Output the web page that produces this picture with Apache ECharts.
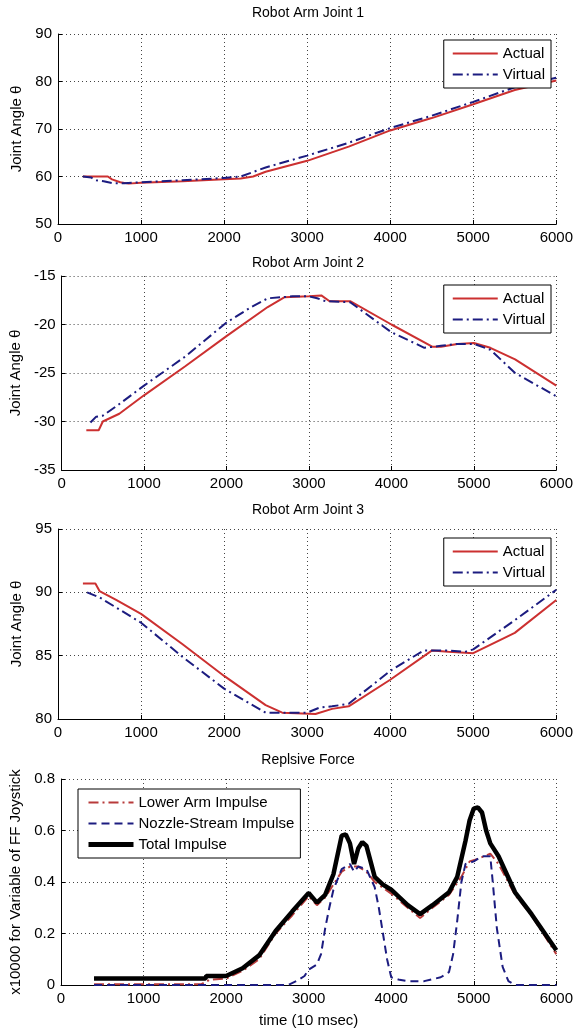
<!DOCTYPE html>
<html>
<head>
<meta charset="utf-8">
<script src="https://cdn.jsdelivr.net/npm/echarts@6/dist/echarts.min.js"></script>
<style>
  html, body { margin: 0; padding: 0; background: #fff; }
  #chart { width: 576px; height: 1031px; }
</style>
</head>
<body>
<div id="chart"></div>
<script>
// titles and names
const titles = ["Robot Arm Joint 1", "Robot Arm Joint 2", "Robot Arm Joint 3", "Replsive Force"];
const yNames = ["Joint Angle θ", "Joint Angle θ", "Joint Angle θ", "x10000 for Variable of FF Joystick"];
const xName = "time (10 msec)";
const yMin = [50, -35, 80, 0];
const yMax = [90, -15, 95, 0.8];
const yStep = [10, 5, 5, 0.2];

// joint 1
const j1ActualX = [300, 600, 650, 750, 850, 1000, 1500, 2000, 2200, 2350, 2500, 3000, 3500, 4000, 4500, 5000, 5500, 6000];
const j1ActualY = [60, 60, 59.4, 58.8, 58.5, 58.7, 59.0, 59.4, 59.6, 60.0, 61.0, 63.3, 66.3, 69.7, 72.3, 75.2, 78.2, 80.2];
const j1VirtualX = [300, 400, 450, 550, 650, 800, 1000, 1500, 2000, 2200, 2500, 3000, 3500, 4000, 4500, 5000, 5500, 6000];
const j1VirtualY = [60, 59.8, 59.2, 59.0, 58.6, 58.6, 58.8, 59.2, 59.7, 60.0, 61.9, 64.4, 67.1, 70.2, 72.8, 75.7, 78.8, 80.8];

// joint 2
const j2ActualX = [300, 450, 500, 700, 1000, 1500, 2000, 2500, 2700, 3000, 3150, 3250, 3500, 4000, 4500, 4600, 4800, 5000, 5200, 5500, 6000];
const j2ActualY = [-30.9, -30.9, -30.0, -29.2, -27.3, -24.3, -21.2, -18.2, -17.2, -17.1, -17.0, -17.6, -17.6, -20.0, -22.3, -22.3, -22.0, -21.9, -22.4, -23.6, -26.3];
const j2VirtualX = [350, 420, 500, 700, 1000, 1500, 2000, 2300, 2500, 2800, 3000, 3100, 3200, 3500, 4000, 4400, 4600, 4800, 5000, 5200, 5500, 6000];
const j2VirtualY = [-30.1, -29.5, -29.4, -28.2, -26.3, -23.3, -19.8, -18.2, -17.3, -17.1, -17.1, -17.3, -17.6, -17.7, -20.8, -22.4, -22.2, -22.0, -22.0, -22.6, -25.0, -27.4];

// joint 3
const j3ActualX = [300, 450, 500, 700, 1000, 1500, 2000, 2500, 2700, 3100, 3300, 3500, 4000, 4500, 4700, 5000, 5500, 6000];
const j3ActualY = [90.7, 90.7, 90.1, 89.4, 88.3, 85.9, 83.4, 81.1, 80.5, 80.4, 80.8, 81.0, 83.1, 85.4, 85.3, 85.2, 86.8, 89.4];
const j3VirtualX = [350, 500, 1000, 1500, 2000, 2500, 3000, 3150, 3300, 3500, 4000, 4400, 4700, 4900, 5000, 5500, 6000];
const j3VirtualY = [90.0, 89.6, 87.6, 84.9, 82.4, 80.5, 80.5, 80.9, 81.0, 81.2, 83.8, 85.4, 85.4, 85.3, 85.5, 87.8, 90.2];

// repulsive force
const lowerX = [400, 1700, 1800, 2000, 2200, 2400, 2600, 2800, 3000, 3100, 3200, 3300, 3400, 3500, 3600, 3700, 3800, 4000, 4200, 4350, 4500, 4700, 4850, 4950, 5050, 5200, 5300, 5500, 5700, 6000];
const lowerY = [0.003, 0.003, 0.02, 0.025, 0.055, 0.1, 0.2, 0.27, 0.345, 0.31, 0.34, 0.39, 0.44, 0.46, 0.46, 0.44, 0.4, 0.355, 0.3, 0.26, 0.3, 0.35, 0.42, 0.48, 0.49, 0.51, 0.47, 0.35, 0.27, 0.12];
const nozzleX = [400, 2750, 2850, 2950, 3000, 3100, 3150, 3200, 3250, 3300, 3400, 3500, 3550, 3600, 3700, 3800, 3850, 3900, 3950, 4000, 4100, 4200, 4400, 4600, 4700, 4750, 4800, 4850, 4900, 5000, 5100, 5200, 5230, 5280, 5350, 5420, 5500, 6000];
const nozzleY = [0, 0, 0.015, 0.035, 0.06, 0.08, 0.12, 0.22, 0.3, 0.37, 0.45, 0.47, 0.44, 0.46, 0.45, 0.38, 0.3, 0.2, 0.1, 0.03, 0.02, 0.015, 0.015, 0.03, 0.05, 0.12, 0.25, 0.4, 0.47, 0.48, 0.5, 0.5, 0.4, 0.22, 0.07, 0.015, 0, 0];
const totalX = [400, 1750, 1760, 2000, 2200, 2400, 2600, 2800, 3000, 3100, 3200, 3300, 3400, 3450, 3500, 3550, 3600, 3650, 3700, 3800, 3900, 4000, 4200, 4350, 4500, 4700, 4800, 4900, 4950, 5000, 5050, 5100, 5150, 5200, 5300, 5500, 5700, 6000];
const totalY = [0.025, 0.025, 0.035, 0.035, 0.065, 0.115, 0.21, 0.285, 0.357, 0.32, 0.35, 0.43, 0.58, 0.585, 0.55, 0.47, 0.53, 0.555, 0.54, 0.42, 0.39, 0.37, 0.31, 0.275, 0.31, 0.36, 0.42, 0.56, 0.64, 0.685, 0.69, 0.67, 0.6, 0.55, 0.5, 0.36, 0.275, 0.135];

const RED = '#cc3030';
const NAVY = '#1c1c80';
const FONT = 'Liberation Sans, Arial, sans-serif';

function pairs(xs, ys) {
  return xs.map((x, i) => [x, ys[i]]);
}

// grid layout
const gridTop = [34, 276, 529, 779];
const gridH = [190, 194, 190, 206];

let grids = [], xAxes = [], yAxes = [], titleList = [];
for (let i = 0; i < 4; i++) {
  grids.push({ left: 58, right: 19, top: gridTop[i], height: gridH[i] });
  xAxes.push({
    type: 'value', gridIndex: i, min: 0, max: 6000, interval: 1000,
    name: i === 3 ? xName : '', nameLocation: 'middle', nameGap: 28,
    nameTextStyle: { color: '#000', fontSize: 15, fontFamily: FONT },
    axisLine: { lineStyle: { color: '#000', width: 1 } },
    axisTick: { inside: true, length: 4, lineStyle: { color: '#000' } },
    axisLabel: { color: '#000', fontSize: 15, fontFamily: FONT, margin: 6, formatter: v => String(v) },
    splitLine: { show: true, lineStyle: { color: '#444', type: [1, 3], width: 1 } }
  });
  yAxes.push({
    type: 'value', gridIndex: i, min: yMin[i], max: yMax[i], interval: yStep[i],
    name: yNames[i], nameLocation: 'middle', nameGap: i === 3 ? 38 : 30,
    nameTextStyle: { color: '#000', fontSize: 15, fontFamily: FONT },
    axisLine: { show: true, lineStyle: { color: '#000', width: 1 } },
    axisTick: { show: true, inside: true, length: 4, lineStyle: { color: '#000' } },
    axisLabel: { color: '#000', fontSize: 15, fontFamily: FONT, margin: 6,
      formatter: v => (i === 3 ? (v === 0 ? '0' : v.toFixed(1)) : String(v)) },
    splitLine: { show: true, lineStyle: { color: '#444', type: [1, 3], width: 1 } }
  });
  titleList.push({
    text: titles[i], left: 308, textAlign: 'center',
    top: [6, 256, 503, 753][i], padding: 0,
    textStyle: { color: '#000', fontSize: 14, fontWeight: 'normal', fontFamily: FONT }
  });
}

function lineSeries(name, idx, xs, ys, color, width, type) {
  return {
    name: name, type: 'line', xAxisIndex: idx, yAxisIndex: idx,
    data: pairs(xs, ys), symbol: 'none', showSymbol: false,
    lineStyle: { color: color, width: width, type: type },
    itemStyle: { color: color }, animation: false
  };
}

const DASHDOT = [10, 4, 2, 4];

const series = [
  lineSeries('Actual', 0, j1ActualX, j1ActualY, RED, 2, 'solid'),
  lineSeries('Virtual', 0, j1VirtualX, j1VirtualY, NAVY, 2, DASHDOT),
  lineSeries('Actual', 1, j2ActualX, j2ActualY, RED, 2, 'solid'),
  lineSeries('Virtual', 1, j2VirtualX, j2VirtualY, NAVY, 2, DASHDOT),
  lineSeries('Actual', 2, j3ActualX, j3ActualY, RED, 2, 'solid'),
  lineSeries('Virtual', 2, j3VirtualX, j3VirtualY, NAVY, 2, DASHDOT),
  lineSeries('Lower Arm Impulse', 3, lowerX, lowerY, '#b83a3a', 2, DASHDOT),
  lineSeries('Nozzle-Stream Impulse', 3, nozzleX, nozzleY, NAVY, 2, [8, 5]),
  lineSeries('Total Impulse', 3, totalX, totalY, '#000', 4.5, 'solid')
];

function legendBox(names, pos) {
  return Object.assign({
    data: names, orient: 'vertical', itemWidth: 45, itemHeight: 14, itemGap: 6,
    padding: [6, 6, 6, 8], borderColor: '#000', borderWidth: 1, backgroundColor: '#fff',
    borderRadius: 0, selectedMode: false,
    itemStyle: { opacity: 0 },
    textStyle: { color: '#000', fontSize: 15, fontFamily: FONT }
  }, pos);
}

const legends = [
  legendBox(['Actual', 'Virtual'], { right: 25, top: 40 }),
  legendBox(['Actual', 'Virtual'], { right: 25, top: 285 }),
  legendBox(['Actual', 'Virtual'], { right: 25, top: 538 }),
  legendBox(['Lower Arm Impulse', 'Nozzle-Stream Impulse',
    { name: 'Total Impulse', lineStyle: { width: 5 } }], { left: 78, top: 789 })
];

const chart = echarts.init(document.getElementById('chart'));
chart.setOption({
  animation: false,
  backgroundColor: '#fff',
  title: titleList,
  grid: grids,
  xAxis: xAxes,
  yAxis: yAxes,
  legend: legends,
  series: series
});
</script>
</body>
</html>
